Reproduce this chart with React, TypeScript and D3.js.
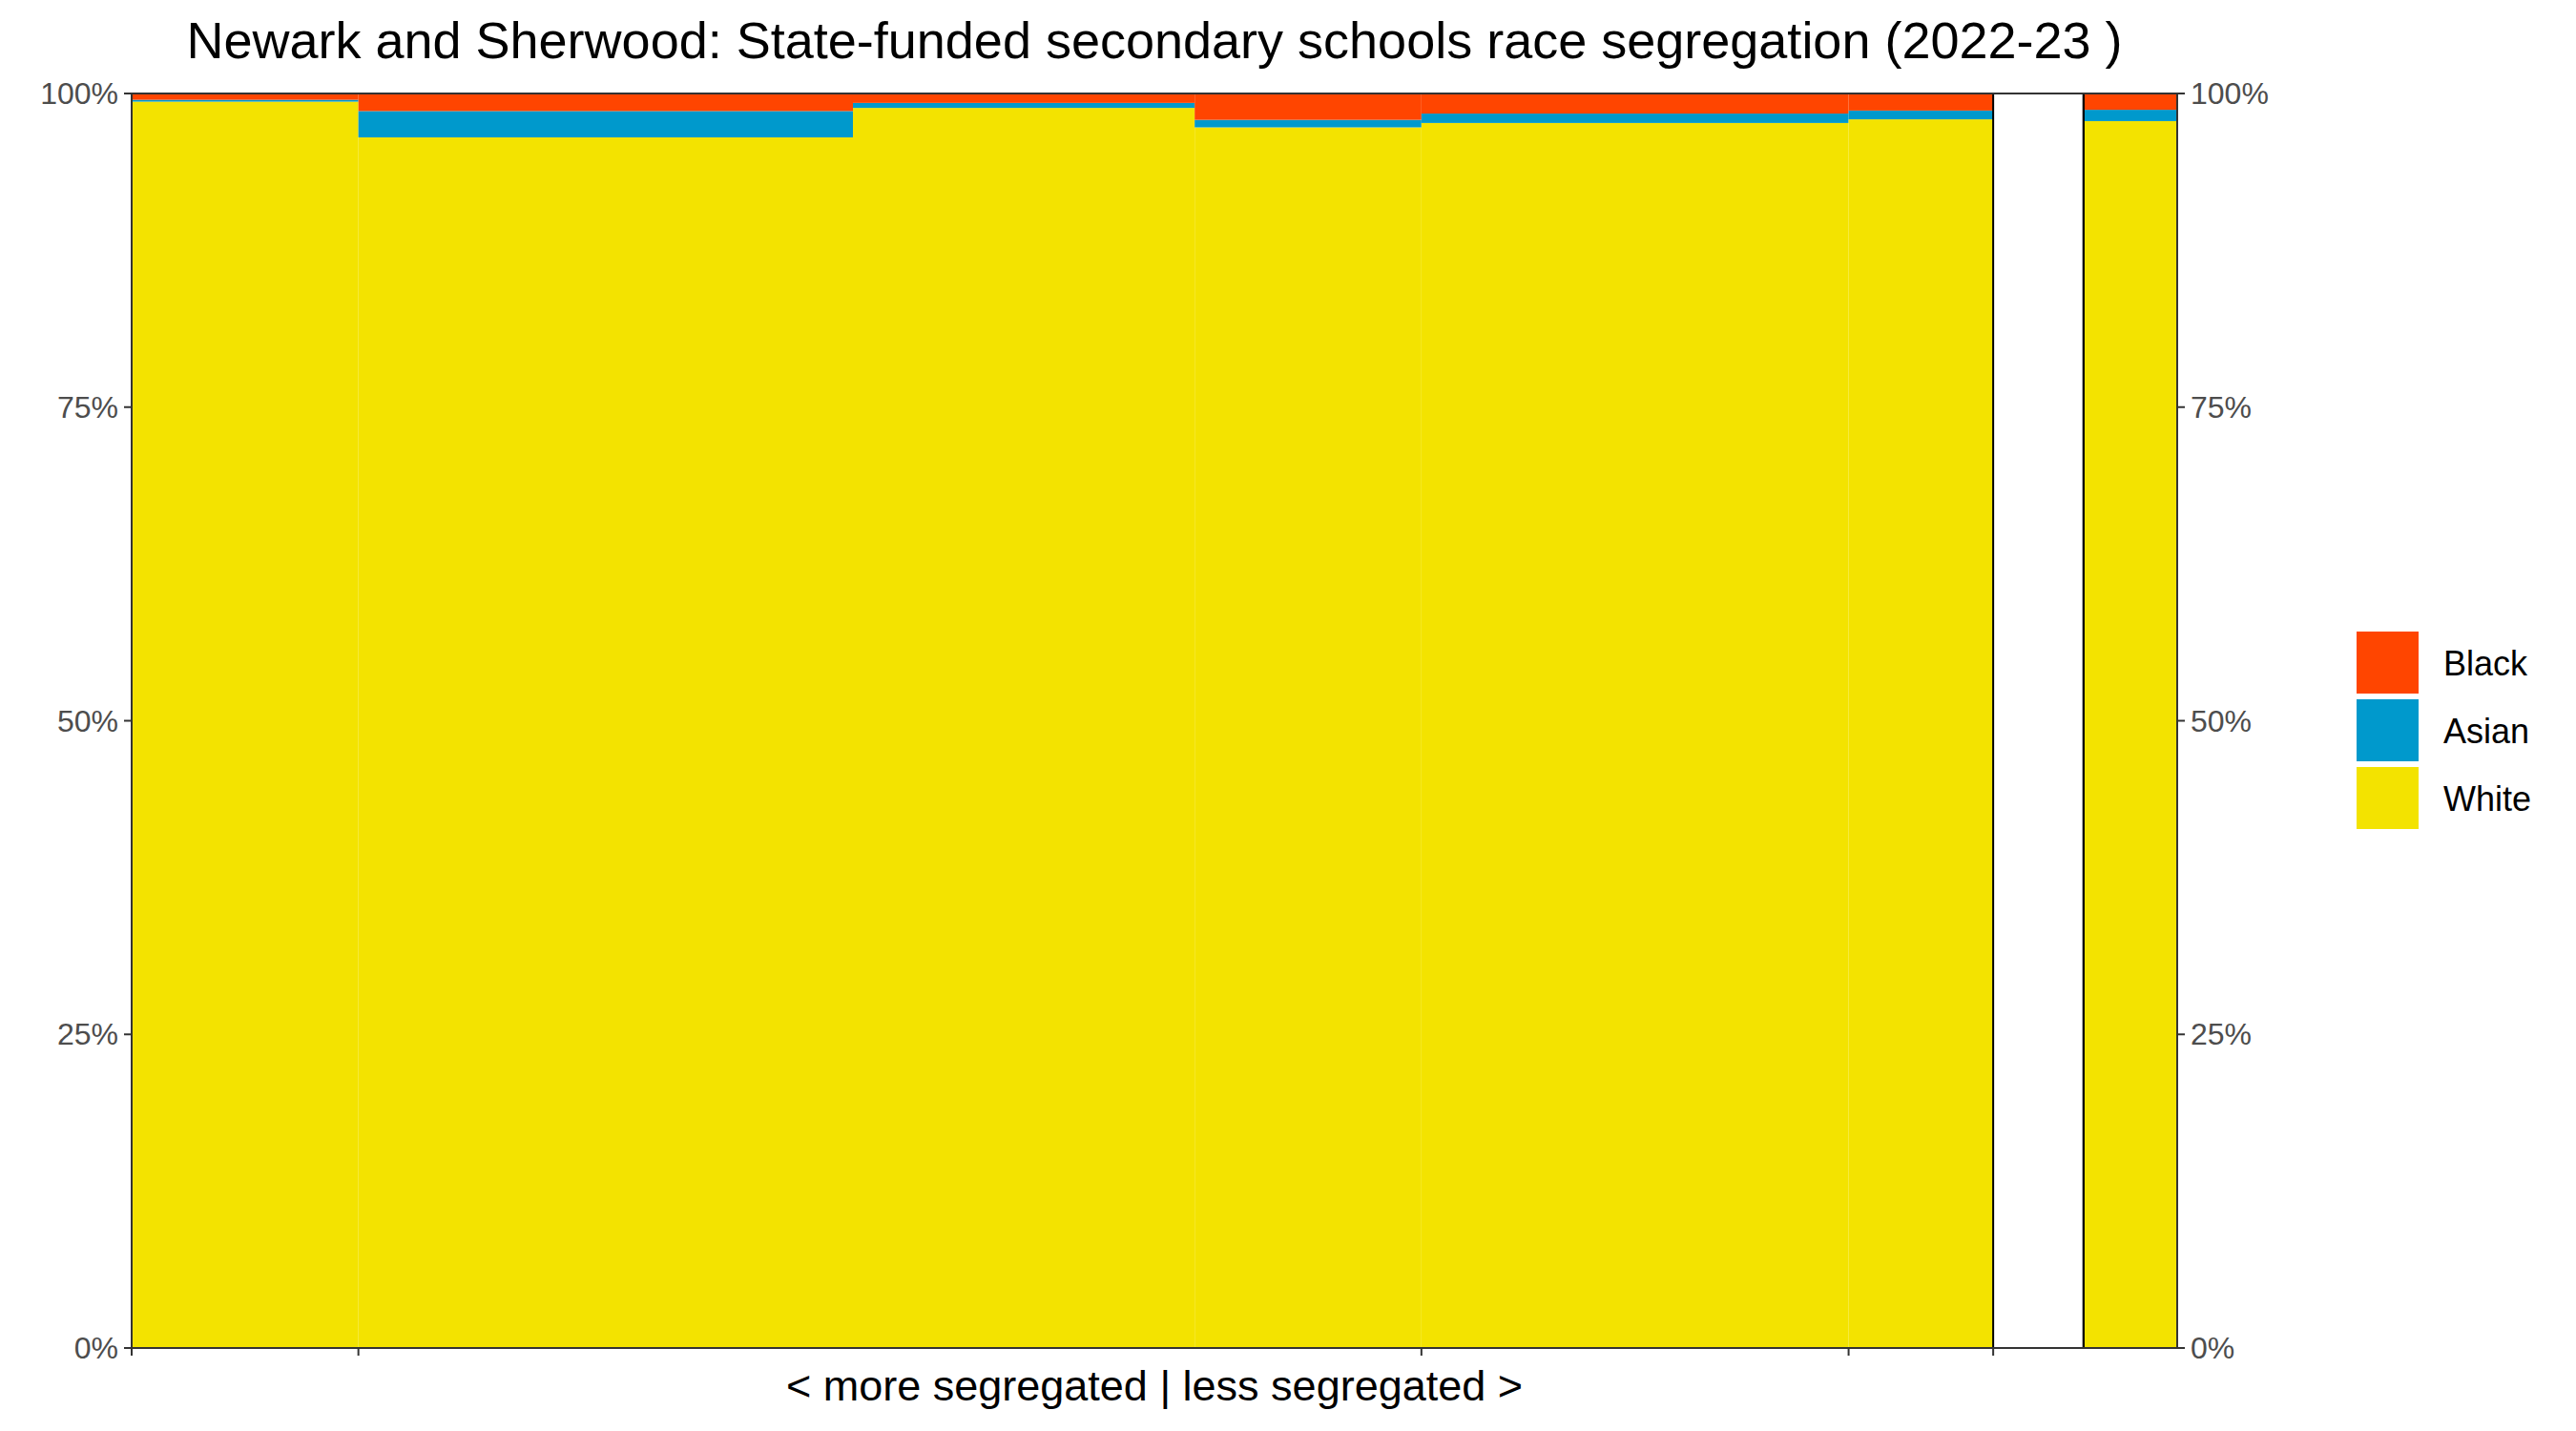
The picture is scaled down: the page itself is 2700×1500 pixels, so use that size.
import * as d3 from "d3";

// schools ordered from more to less segregated, width = pupils
const schools = ["S1", "S2", "S3", "S4", "S5", "S6", "Gap", "Area"];
const pupils = [690, 1505, 1040, 690, 1300, 440, 275, 285];
const white = [99.35, 96.5, 98.85, 97.3, 97.65, 97.94, 0, 97.8];
const asian = [0.15, 2.1, 0.4, 0.6, 0.75, 0.7, 0, 0.9];
const black = [0.5, 1.4, 0.75, 2.1, 1.6, 1.36, 0, 1.3];
const yTicks = [0, 25, 50, 75, 100];
const xTickIdx = [0, 1, 4, 5, 6];

const groups = ["White", "Asian", "Black"];
const colours: Record<string, string> = { White: "#F3E300", Asian: "#0099CC", Black: "#FF4500" };
const legendOrder = ["Black", "Asian", "White"];

const W = 2700, H = 1500;
const m = { l: 138, r: 2282, t: 98, b: 1413 };
const font = "Arial, 'Liberation Sans', sans-serif";

export default function App() {
  const starts = pupils.map((_, i) => d3.sum(pupils.slice(0, i)));
  const total = d3.sum(pupils);
  const x = d3.scaleLinear().domain([0, total]).range([m.l, m.r]);
  const y = d3.scaleLinear().domain([0, 100]).range([m.b, m.t]);
  const vals: Record<string, number[]> = { White: white, Asian: asian, Black: black };

  const rects: JSX.Element[] = [];
  schools.forEach((s, i) => {
    let acc = 0;
    groups.forEach((g) => {
      const v = vals[g][i];
      if (v > 0) {
        rects.push(
          <rect key={s + g} x={x(starts[i])} width={x(starts[i] + pupils[i]) - x(starts[i])}
            y={y(acc + v)} height={y(acc) - y(acc + v)} fill={colours[g]} />
        );
      }
      acc += v;
    });
  });
  const outlined = [6, 7];

  return (
    <svg width={W} height={H} style={{ display: "block", position: "absolute", left: 0, top: 0, fontFamily: font }}>
      <rect width={W} height={H} fill="white" />
      {rects}
      {outlined.map((i) => (
        <rect key={"o" + i} x={x(starts[i])} y={m.t} width={x(starts[i] + pupils[i]) - x(starts[i])}
          height={m.b - m.t} fill="none" stroke="black" strokeWidth={2} />
      ))}
      <rect x={m.l} y={m.t} width={m.r - m.l} height={m.b - m.t} fill="none" stroke="#333" strokeWidth={2} />
      {yTicks.map((t) => (
        <g key={t}>
          <line x1={m.l - 8} x2={m.l} y1={y(t)} y2={y(t)} stroke="#333" strokeWidth={2} />
          <line x1={m.r} x2={m.r + 8} y1={y(t)} y2={y(t)} stroke="#333" strokeWidth={2} />
          <text x={m.l - 14} y={y(t)} dy="0.35em" textAnchor="end" fontSize={32} fill="#4d4d4d">{t}%</text>
          <text x={m.r + 14} y={y(t)} dy="0.35em" textAnchor="start" fontSize={32} fill="#4d4d4d">{t}%</text>
        </g>
      ))}
      {xTickIdx.map((i) => (
        <line key={i} x1={x(starts[i])} x2={x(starts[i])} y1={m.b} y2={m.b + 8} stroke="#333" strokeWidth={2} />
      ))}
      <text x={(m.l + m.r) / 2} y={1468} textAnchor="middle" fontSize={45}>&lt; more segregated | less segregated &gt;</text>
      <text x={(m.l + m.r) / 2} y={61} textAnchor="middle" fontSize={54}>
        Newark and Sherwood: State-funded secondary schools race segregation (2022-23 )
      </text>
      {legendOrder.map((g, i) => (
        <g key={g}>
          <rect x={2470} y={662 + i * 71} width={65} height={65} fill={colours[g]} />
          <text x={2561} y={695 + i * 71} dy="0.35em" fontSize={36}>{g}</text>
        </g>
      ))}
    </svg>
  );
}
